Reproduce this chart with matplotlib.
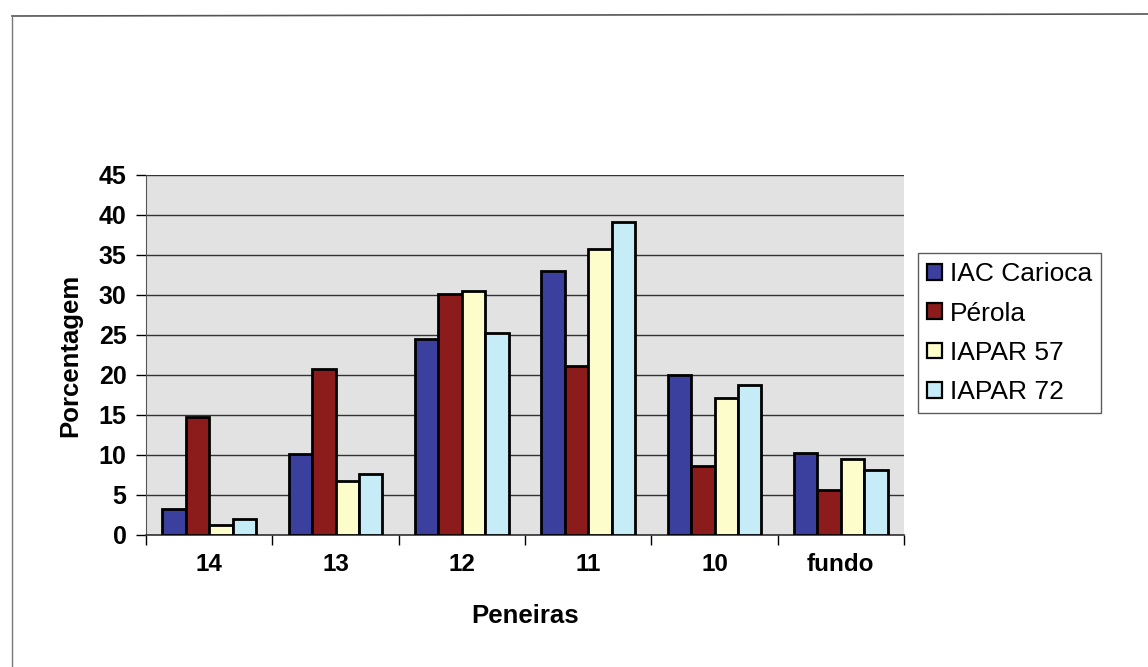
import numpy as np
import matplotlib.pyplot as plt
from matplotlib.lines import Line2D

plt.rcParams['font.family'] = ['Liberation Sans', 'DejaVu Sans']

peneiras = ["14", "13", "12", "11", "10", "fundo"]
iac_carioca = [3.3, 10.1, 24.5, 33.0, 20.0, 10.2]
perola = [14.7, 20.8, 30.1, 21.1, 8.6, 5.6]
iapar_57 = [1.2, 6.7, 30.5, 35.8, 17.1, 9.5]
iapar_72 = [2.0, 7.6, 25.3, 39.1, 18.7, 8.1]

series = [
    ("IAC Carioca", iac_carioca, "#3b3f9e"),
    ("Pérola", perola, "#8c1c1c"),
    ("IAPAR 57", iapar_57, "#fdfccb"),
    ("IAPAR 72", iapar_72, "#c5ecf7"),
]

fig = plt.figure(figsize=(11.48, 6.67), dpi=100)
ax = fig.add_axes([146 / 1148, 1 - 535 / 667, (904 - 146) / 1148, (535 - 175) / 667])
ax.set_facecolor("#e2e2e2")

x = np.arange(len(peneiras))
w = 0.185
for i, (name, vals, col) in enumerate(series):
    ax.bar(x + (i - 1.5) * w, vals, w, color=col, edgecolor="black",
           linewidth=2.0, label=name, zorder=3)

ax.set_xlim(-0.5, len(peneiras) - 0.5)
ax.set_ylim(0, 45)
ax.set_yticks(range(0, 46, 5))
ax.yaxis.grid(True, color="#333333", linewidth=1.0, zorder=1)
ax.set_axisbelow(True)

# ticks between the groups, labels in the middle
ax.set_xticks(np.arange(-0.5, len(peneiras), 1.0))
ax.set_xticklabels([])
ax.set_xticks(x, minor=True)
ax.set_xticklabels(peneiras, minor=True, fontsize=17.5, fontweight="bold")
ax.tick_params(axis="x", which="minor", length=0, pad=13)
ax.tick_params(axis="x", which="major", length=7, width=1, direction="out")
ax.tick_params(axis="y", length=7, width=1, direction="out", labelsize=18, pad=7)
for lab in ax.get_yticklabels():
    lab.set_fontweight("bold")

for side in ["top", "right"]:
    ax.spines[side].set_visible(False)
ax.spines["left"].set_color("#555555")
ax.spines["bottom"].set_color("#333333")
ax.spines["bottom"].set_linewidth(1.2)

ax.set_xlabel("Peneiras", fontsize=18.5, fontweight="bold", labelpad=20)
ax.set_ylabel("Porcentagem", fontsize=18.5, fontweight="bold", labelpad=12)

leg = ax.legend(loc="upper left", bbox_to_anchor=(918 / 1148, 1 - 253 / 667),
                bbox_transform=fig.transFigure, fontsize=19, frameon=True,
                fancybox=False, edgecolor="#333333", handlelength=0.55,
                handleheight=0.55, handletextpad=0.3, labelspacing=0.58,
                borderpad=0.35, borderaxespad=0)
leg.get_frame().set_linewidth(1.0)
for h in leg.legend_handles:
    h.set_linewidth(1.6)

# outer chart border (top and left visible in the scan)
fig.add_artist(Line2D([12 / 1148, 1.0], [1 - 16 / 667, 1 - 14 / 667],
                      transform=fig.transFigure, color="#555555", linewidth=1.2))
fig.add_artist(Line2D([12 / 1148, 12 / 1148], [1 - 16 / 667, 0.0],
                      transform=fig.transFigure, color="#777777", linewidth=1.0))

fig.savefig("out.png", dpi=100, facecolor="white")
